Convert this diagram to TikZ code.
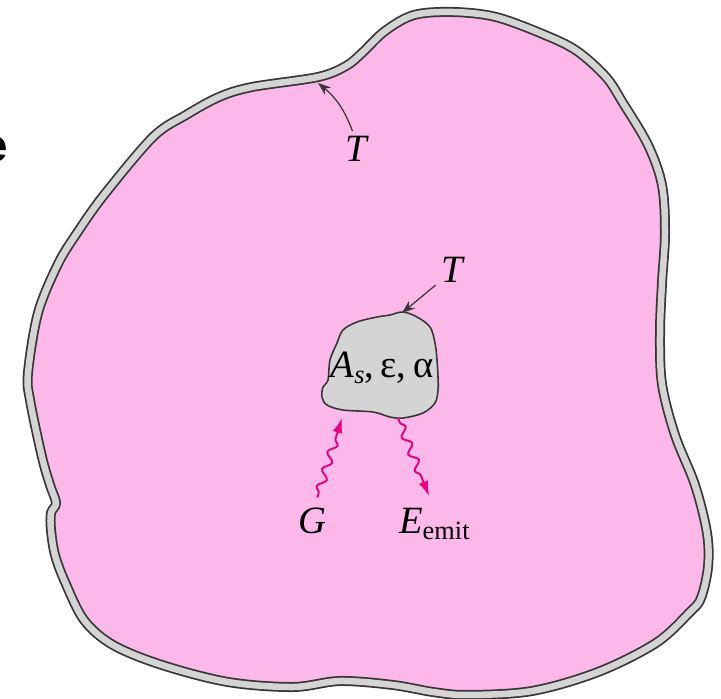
\documentclass[tikz,border=0pt]{standalone}
\usepackage{fontspec}
\setmainfont{Liberation Serif}
\newfontfamily\headsans{Liberation Sans}
\usepackage{tikz}
\usetikzlibrary{arrows.meta,decorations.pathmorphing,positioning}
\definecolor{roompink}{RGB}{252,184,232}
\definecolor{wallgrey}{RGB}{212,212,212}
\definecolor{edge}{RGB}{55,55,55}
\definecolor{beam}{RGB}{232,0,128}
\newcommand{\lowsub}[1]{\raisebox{-0.3ex}{\fontsize{15}{15}\selectfont #1}}

\begin{document}
\begin{tikzpicture}[
  x=0.02cm,y=-0.02cm,
  wall/.style={fill=roompink,draw=edge,line width=0.2cm,
    postaction={draw=wallgrey,line width=0.13cm}},
  body/.style={fill=wallgrey,draw=edge,line width=0.9pt},
  lbl/.style={font=\fontsize{22}{24}\selectfont\itshape,inner sep=1pt},
  ptr/.style={-{Stealth[length=2.6mm,width=1.9mm]},edge,line width=0.7pt},
  ray/.style={-{Latex[length=3mm,width=2mm]},beam,line width=1.1pt,decorate,
    decoration={snake,amplitude=0.8mm,segment length=3.6mm,pre length=1mm,post length=3mm}},
]
  \clip (0,0) rectangle (721,699);
  % enclosure wall
  \path[wall] plot[smooth cycle,tension=0.55] coordinates {
    (77,233) (104,195) (153,137) (186,115) (219,97) (252,87) (318,77) (346,66)
    (362,53) (385,31) (414,15) (453,12) (496,17) (545,35) (577,51) (606,77)
    (623,103) (648,145) (662,185) (665,233) (662,283) (660,333) (662,384)
    (675,435) (695,485) (707,533) (708,567) (701,598) (690,612) (656,643)
    (598,672) (532,691) (467,695) (433,692) (393,685) (340,681) (293,687)
    (228,682) (162,665) (113,645) (84,620) (65,582) (55,555) (51,530)
    (51,513) (56,503) (50,485) (42,457) (30,400) (28,373) (38,313) (58,264)};
  % small body
  \path[body] plot[smooth cycle,tension=0.55] coordinates {
    (357,322) (377,317) (390,315) (403,312) (417,317) (430,327) (435,343)
    (437,360) (438,377) (438,390) (435,403) (423,413) (403,418) (390,417)
    (373,412) (343,410) (327,405) (322,397) (323,387) (328,380) (330,360)
    (337,343) (343,330)};
  \node[font=\fontsize{22}{24}\selectfont,inner sep=0pt,anchor=base] (props) at (382,378)
    {\textit{A}\lowsub{\textit{s}},\,ε,\,α};
  \node[font=\headsans\bfseries\fontsize{26}{28}\selectfont,inner sep=0pt,anchor=base east] (cut) at (8,162) {e};

  \coordinate (wallpt) at (318,83);
  \coordinate (bodytop) at (402,313);
  \coordinate (gin) at (342,418);
  \coordinate (eout) at (398,418);

  \node[lbl,anchor=base] (Twall) at (356,162) {T};
  \node[lbl,anchor=base] (Tbody) at (452,283) {T};
  \node[lbl,anchor=base] (G) at (312,534) {G};
  \node[lbl,anchor=base west] (E) at (397,534) {E\lowsub{\upshape emit}};

  \draw[ptr] ([xshift=-2pt,yshift=2pt]Twall.north) to[bend right=15] (wallpt);
  \draw[ptr] ([xshift=-2pt]Tbody.south west) -- (bodytop);
  \draw[ray] ([xshift=3pt,yshift=5pt]G.north) -- (gin);
  \draw[ray] (eout) -- ([xshift=-3pt,yshift=6pt]E.north);
\end{tikzpicture}
\end{document}
